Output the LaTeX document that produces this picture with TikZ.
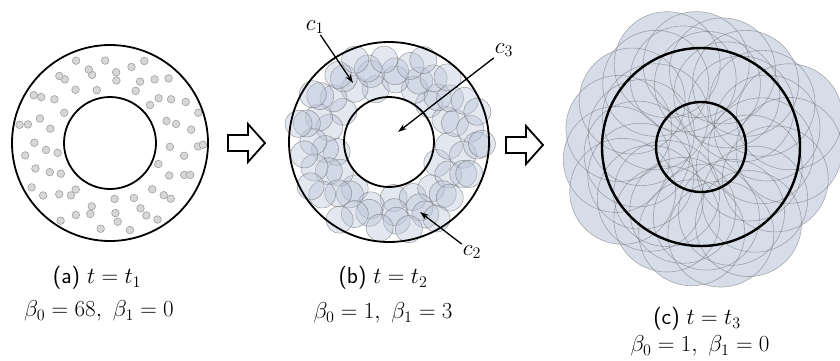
\RequirePackage{fix-cm}
\documentclass[tikz,border=0pt]{standalone}
\usepackage{amsmath,amssymb}
\usepackage{tikz}
\usetikzlibrary{arrows.meta, positioning, calc}
\usepackage{xcolor}
\definecolor{dotfill}{RGB}{215,215,215}
\definecolor{diskfill}{RGB}{185,196,216}
\definecolor{coverfill}{RGB}{214,221,233}
% centre of the i-th point in the annulus (angle, radius)
\newcommand{\ptpos}[1]{%
  \pgfmathsetmacro\ang{#1*137.508+9*sin(#1*91)}%
  \pgfmathsetmacro\rr{sqrt(2704+(#1-0.5)/68*5945)+3*sin(#1*53)}}

\begin{document}
\begin{tikzpicture}[x=1pt, y=-1pt, every node/.style={font=\fontsize{23}{27}\selectfont, inner sep=1pt},
  ring/.style={line width=1.8pt, black},
  dot/.style={fill=dotfill, draw=gray!75, line width=0.6pt},
  disk/.style={fill=diskfill, fill opacity=0.4, draw=gray!80!black, draw opacity=0.55, line width=0.6pt},
  pointer/.style={-{Stealth[length=9pt,width=6pt]}, line width=1.3pt}]
\useasboundingbox (0,0) rectangle (840,360);
\coordinate (ca) at (110,143);
\coordinate (cb) at (389,142);
\coordinate (cc) at (701,147);
% (a): small dots in the annulus
\foreach \i in {1,...,68}{
  \ptpos{\i}
  \draw[dot] ($(ca)+(\ang:\rr pt)$) circle[radius=3.8pt];
}
\draw[ring] (ca) circle[radius=98pt];
\draw[ring] (ca) circle[radius=46pt];
\node (lbla) at (97,278) {\textsf{(a)} $t=t_1$};
\node (betaa) at (99,311) {$\beta_0=68,\ \beta_1=0$};
% (b): same centres, bigger disks
\foreach \i in {1,...,68}{
  \ptpos{\i}
  \draw[disk] ($(cb)+(\ang:\rr pt)$) circle[radius=13.5pt];
}
\draw[ring] (cb) circle[radius=100pt];
\draw[ring] (cb) circle[radius=45pt];
\node (lblb) at (383,278) {\textsf{(b)} $t=t_2$};
\node (betab) at (383,313) {$\beta_0=1,\ \beta_1=3$};
% pointers to the holes
\node (c1) at (315,27) {$c_1$};
\node (c2) at (472,252) {$c_2$};
\node (c3) at (504,50) {$c_3$};
\coordinate (h1) at (353,83);
\coordinate (h2) at (420,212);
\coordinate (h3) at (398,132);
\draw[pointer] (c1) -- (h1);
\draw[pointer] (c2) -- (h2);
\draw[pointer] (c3) -- (h3);
% (c): disks large enough to fill everything
\foreach \i in {1,3,...,67}{
  \ptpos{\i}
  \fill[coverfill] ($(cc)+(\ang:\rr pt)$) circle[radius=53pt];
}
\foreach \i in {1,3,...,67}{
  \ptpos{\i}
  \draw[gray!70!black, draw opacity=0.45, line width=0.6pt] ($(cc)+(\ang:\rr pt)$) circle[radius=53pt];
}
\draw[ring, line width=2.4pt] (cc) circle[radius=99pt];
\draw[ring, line width=2.4pt] (cc) circle[radius=45pt];
\node (lblc) at (697,319) {\textsf{(c)} $t=t_3$};
\node (betac) at (700,346) {$\beta_0=1,\ \beta_1=0$};
% hollow block arrows between panels
\foreach \ax/\ay in {228/143, 506/145}{
  \draw[line width=1.8pt, line join=miter]
    (\ax,\ay-8) -- ++(20,0) -- ++(0,-11) -- ++(17,19) -- ++(-17,19) -- ++(0,-11) -- ++(-20,0) -- cycle;
}
\end{tikzpicture}
\end{document}
